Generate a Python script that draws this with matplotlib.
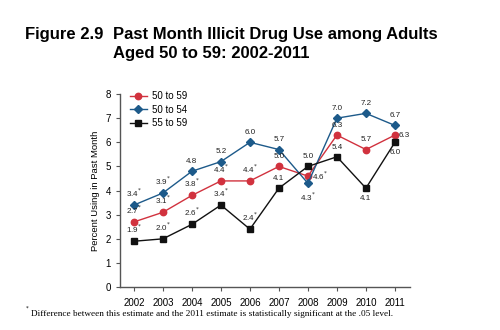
import matplotlib
matplotlib.use("Agg")
import matplotlib.pyplot as plt

plt.rcParams['font.family'] = ['Liberation Sans', 'DejaVu Sans']

years = [2002, 2003, 2004, 2005, 2006, 2007, 2008, 2009, 2010, 2011]
s5059 = [2.7, 3.1, 3.8, 4.4, 4.4, 5.0, 4.6, 6.3, 5.7, 6.3]
s5054 = [3.4, 3.9, 4.8, 5.2, 6.0, 5.7, 4.3, 7.0, 7.2, 6.7]
s5559 = [1.9, 2.0, 2.6, 3.4, 2.4, 4.1, 5.0, 5.4, 4.1, 6.0]
sig5059 = [1, 1, 1, 1, 1, 0, 1, 0, 0, 0]
sig5054 = [1, 1, 0, 0, 0, 0, 1, 0, 0, 0]
sig5559 = [1, 1, 1, 1, 1, 0, 0, 0, 0, 0]
# label placement: 'a' above, 'b' below, 'r' right
pos5059 = ['a', 'a', 'a', 'a', 'a', 'a', 'r', 'a', 'a', 'r']
pos5054 = ['a', 'a', 'a', 'a', 'a', 'a', 'b', 'a', 'a', 'a']
pos5559 = ['a', 'a', 'a', 'a', 'a', 'a', 'a', 'a', 'b', 'b']

red = '#d1323e'
blue = '#1d5a8a'
black = '#111111'

fig = plt.figure(figsize=(5, 3.3), dpi=100)
ax = fig.add_axes([0.24, 0.13, 0.58, 0.585])

ax.plot(years, s5059, color=red, marker='o', ms=4.6, lw=1, label='50 to 59', zorder=3)
ax.plot(years, s5054, color=blue, marker='D', ms=3.8, lw=1, label='50 to 54', zorder=3)
ax.plot(years, s5559, color=black, marker='s', ms=4.6, lw=1, label='55 to 59', zorder=3)

def annotate(vals, sigs, poss):
    for x, v, s, p in zip(years, vals, sigs, poss):
        t = f"{v:.1f}" + ("$^{*}$" if s else "")
        if p == 'a':
            ax.annotate(t, (x, v), xytext=(0, 4.5), textcoords='offset points',
                        ha='center', va='bottom', fontsize=5.8, color='#222222')
        elif p == 'b':
            ax.annotate(t, (x, v), xytext=(0, -5), textcoords='offset points',
                        ha='center', va='top', fontsize=5.8, color='#222222')
        else:
            ax.annotate(t, (x, v), xytext=(3, 0), textcoords='offset points',
                        ha='left', va='center', fontsize=5.8, color='#222222')

annotate(s5059, sig5059, pos5059)
annotate(s5054, sig5054, pos5054)
annotate(s5559, sig5559, pos5559)

ax.set_xlim(2001.52, 2011.52)
ax.set_ylim(0, 8)
ax.set_xticks(years)
ax.set_xticklabels([str(y) for y in years], fontsize=7)
ax.set_yticks(range(0, 9))
ax.tick_params(axis='y', labelsize=7, length=3, width=0.8, color='#555555')
ax.tick_params(axis='x', length=3, width=0.8, color='#555555', pad=5)
for sp in ['top', 'right']:
    ax.spines[sp].set_visible(False)
for sp in ['left', 'bottom']:
    ax.spines[sp].set_color('#555555')
    ax.spines[sp].set_linewidth(1)
ax.set_ylabel('Percent Using in Past Month', fontsize=6.8)

leg = ax.legend(loc='upper left', bbox_to_anchor=(0.01, 1.05), frameon=False,
                fontsize=7, handlelength=1.8, handletextpad=0.5,
                labelspacing=0.35, borderpad=0.2)

fig.text(0.206, 0.894, 'Figure 2.9', fontsize=12, fontweight='bold', ha='right', va='center')
fig.text(0.226, 0.894, 'Past Month Illicit Drug Use among Adults', fontsize=12,
         fontweight='bold', ha='left', va='center')
fig.text(0.226, 0.839, 'Aged 50 to 59: 2002-2011', fontsize=12, fontweight='bold',
         ha='left', va='center')

fig.text(0.05, 0.058, '$^{*}$', fontsize=5.5, ha='left', va='center', family='Liberation Serif')
fig.text(0.062, 0.05, 'Difference between this estimate and the 2011 estimate is statistically significant at the .05 level.',
         fontsize=6.7, ha='left', va='center', family='Liberation Serif')

fig.savefig('out.png', dpi=100)
